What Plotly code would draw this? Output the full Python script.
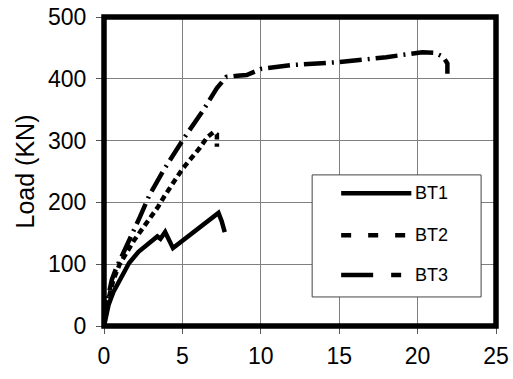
import plotly.graph_objects as go

# Load-deflection curves of the three test beams
bt1_x = [0, 0.3, 0.6, 1.0, 1.6, 2.2, 2.7, 3.1, 3.4, 3.6, 3.9, 4.4, 5.0, 6.0, 7.0, 7.3, 7.5, 7.7]
bt1_y = [0, 35, 55, 74, 102, 120, 130, 139, 145, 141, 152, 126, 138, 158, 178, 183, 170, 152]

bt2_x = [0, 0.3, 0.6, 1.0, 1.9, 2.4, 2.9, 3.45, 3.9, 5.0, 6.1, 6.6, 7.0, 7.2, 7.2]
bt2_y = [0, 45, 75, 100, 138, 155, 174, 193, 212, 254, 288, 306, 314, 310, 290]

bt3_x = [0, 0.2, 0.5, 0.8, 1.23, 1.77, 2.3, 2.9, 3.8, 5.1, 6.3, 7.2, 7.8, 8.5, 9.1,
         10.0, 11.9, 15.0, 18.0, 20.3, 21.1, 21.6, 21.9, 21.9]
bt3_y = [0, 40, 75, 95, 118, 150, 177, 212, 252, 304, 348, 385, 403, 405, 406,
         416, 422, 427, 435, 443, 442, 436, 425, 408]

series_names = ["BT1", "BT2", "BT3"]
x_ticks = [0, 5, 10, 15, 20, 25]
y_ticks = [0, 100, 200, 300, 400, 500]

FONT = "Liberation Sans, Arial, sans-serif"
LW = 4.5
dashes = ["solid", "6px,4px", "22px,6px,2px,6px"]

fig = go.Figure()
for (xs, ys), name, dash in zip([(bt1_x, bt1_y), (bt2_x, bt2_y), (bt3_x, bt3_y)],
                                series_names, dashes):
    fig.add_trace(go.Scatter(x=xs, y=ys, mode="lines", name=name,
                             line=dict(color="black", width=LW, dash=dash),
                             showlegend=False))

# Boxed legend in paper coordinates
shapes = [
    dict(type="rect", xref="paper", yref="paper", x0=0.531, x1=0.962, y0=0.094, y1=0.489,
         line=dict(color="#444444", width=1), fillcolor="white", layer="above"),
]
legend_dash = ["solid", "10px,17px", "32px,18px,10px,20px"]
legend_y = [0.430, 0.294, 0.165]
annotations = []
for name, dash, ly in zip(series_names, legend_dash, legend_y):
    shapes.append(dict(type="line", xref="paper", yref="paper", x0=0.605, x1=0.784,
                       y0=ly, y1=ly, line=dict(color="black", width=LW, dash=dash),
                       layer="above"))
    annotations.append(dict(xref="paper", yref="paper", x=0.788, y=ly, text=name,
                            showarrow=False, xanchor="left", yanchor="middle",
                            font=dict(family=FONT, size=18, color="black")))

# Heavy frame around the plot area
shapes.append(dict(type="rect", xref="paper", yref="paper", x0=0, x1=1, y0=0, y1=1,
                   line=dict(color="black", width=5.5), layer="above"))

axis_common = dict(showgrid=True, gridcolor="#808080", gridwidth=1,
                   ticks="outside", ticklen=7, tickcolor="#555555", tickwidth=1,
                   showline=False, zeroline=False, automargin=False,
                   tickfont=dict(family=FONT, size=23, color="black"))

fig.update_layout(
    width=513, height=379,
    margin=dict(l=104, r=17, t=17, b=53, autoexpand=False),
    paper_bgcolor="white", plot_bgcolor="white",
    xaxis=dict(range=[0, 25], tickvals=x_ticks, ticklabelstandoff=2, **axis_common),
    yaxis=dict(range=[0, 500], tickvals=y_ticks, ticklabelstandoff=5,
               title=dict(text="Load (KN)", standoff=6,
                          font=dict(family=FONT, size=25, color="black")),
               **axis_common),
    shapes=shapes,
    annotations=annotations,
)

fig.write_html("out.html")
